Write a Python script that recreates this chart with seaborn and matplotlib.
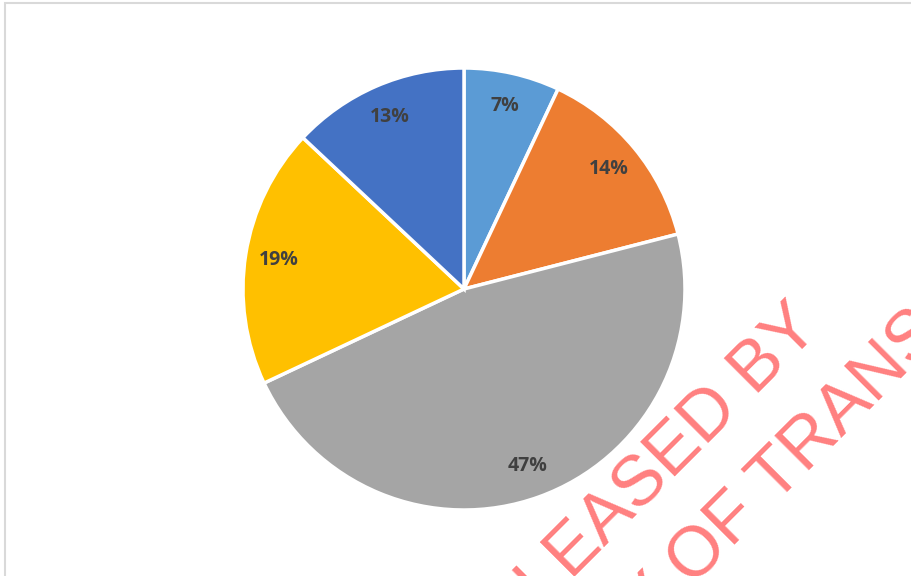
import matplotlib
matplotlib.use("Agg")
import matplotlib.pyplot as plt
import seaborn as sns
from matplotlib.patches import Rectangle

sns.set_theme(style="white")

# data
categories = ["A", "B", "C", "D", "E"]
shares = [7, 14, 47, 19, 13]
colors = ["#5B9BD5", "#ED7D31", "#A5A5A5", "#FFC000", "#4472C4"]
watermark_lines = ["RELEASED BY", "MINISTRY OF TRANSPORT"]

W, H = 911, 576
fig = plt.figure(figsize=(W / 100, H / 100), dpi=100)
fig.patch.set_facecolor("white")

cx, cy, r = 464, 289, 221
ax = fig.add_axes([(cx - r) / W, (H - cy - r) / H, 2 * r / W, 2 * r / H])
wedges, texts, autotexts = ax.pie(
    shares,
    colors=colors,
    startangle=90,
    counterclock=False,
    autopct=lambda p: f"{p:.0f}%",
    pctdistance=0.85,
    wedgeprops=dict(edgecolor="white", linewidth=2.5),
    textprops=dict(fontsize=14, fontweight="bold", color="#404040", family="Open Sans"),
)
ax.set_xlim(-1, 1)
ax.set_ylim(-1, 1)
ax.set_aspect("equal")
ax.axis("off")

# frame border
fig.patches.append(Rectangle((4.5 / W, -0.1), 1.2, 1 - 2.5 / H + 0.1,
                             transform=fig.transFigure, fill=False,
                             edgecolor="#D9D9D9", linewidth=1.5))

wm = dict(rotation=45, rotation_mode="anchor", va="baseline", fontsize=51,
          color="#FF8080", family="Liberation Sans", zorder=10)
fig.text(822 / W, 1 - 330 / H, watermark_lines[0], ha="right", **wm)
fig.text(762 / W, 1 - 518 / H, watermark_lines[1], ha="center", **wm)

fig.savefig("out.png", dpi=100)
